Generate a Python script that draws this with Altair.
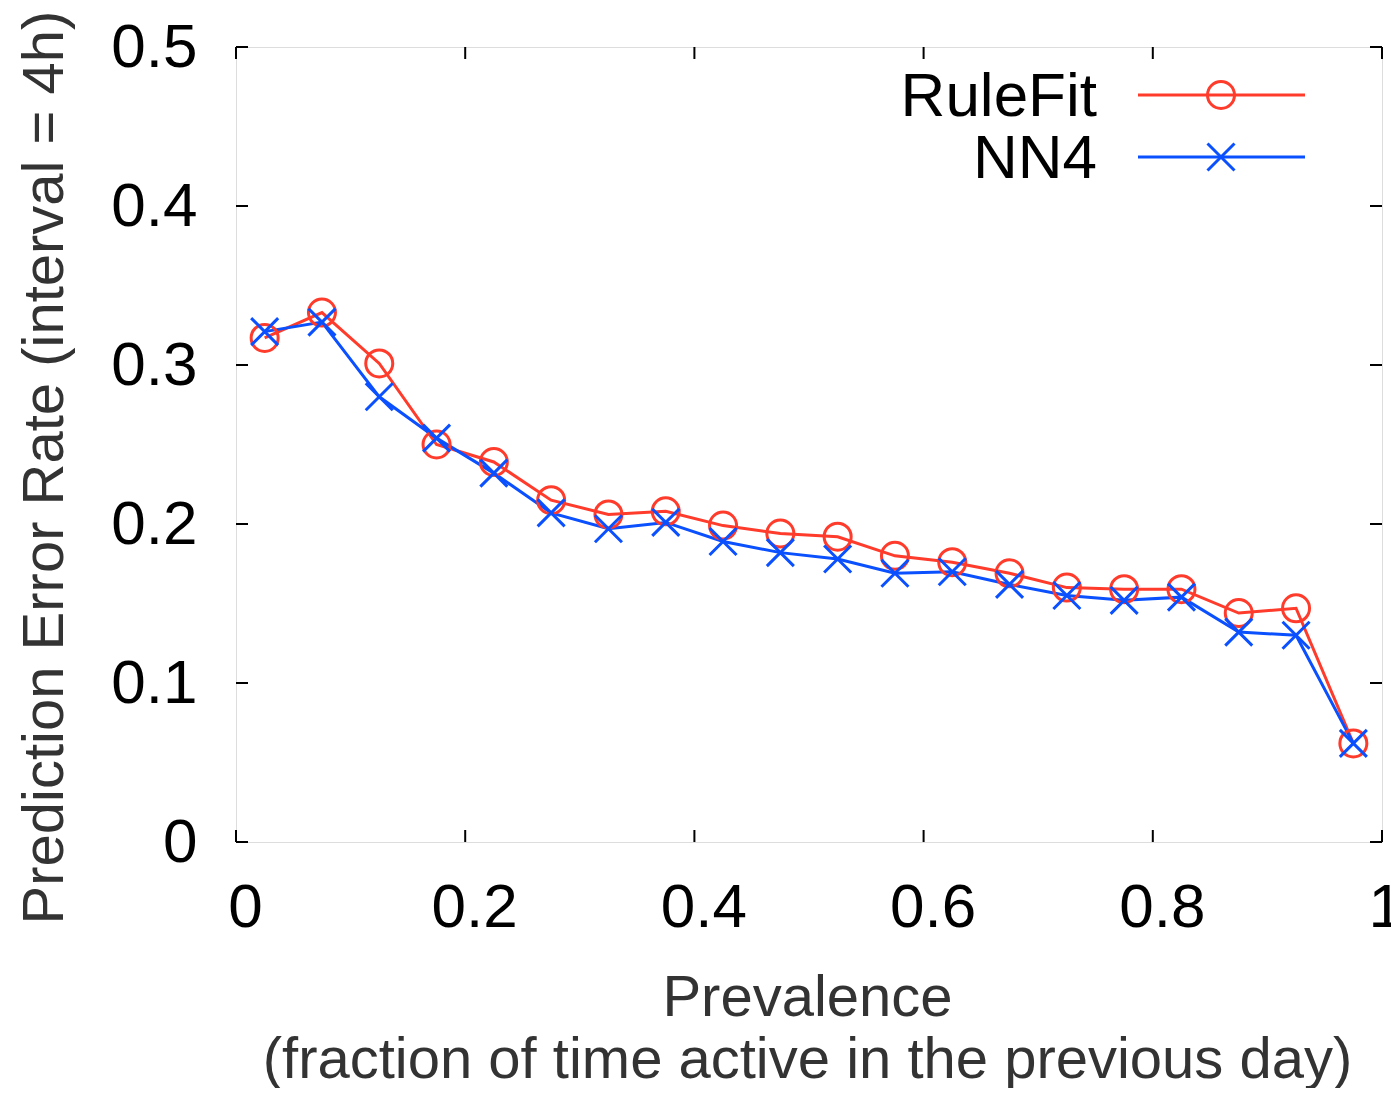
import altair as alt
import pandas as pd

prevalence = [0.025, 0.075, 0.125, 0.175, 0.225, 0.275, 0.325, 0.375, 0.425, 0.475,
              0.525, 0.575, 0.625, 0.675, 0.725, 0.775, 0.825, 0.875, 0.925, 0.975]
rulefit = [0.317, 0.333, 0.301, 0.250, 0.239, 0.215, 0.206, 0.208, 0.199, 0.194,
           0.192, 0.180, 0.176, 0.169, 0.160, 0.159, 0.159, 0.144, 0.147, 0.062]
nn4 = [0.321, 0.327, 0.280, 0.254, 0.232, 0.207, 0.197, 0.201, 0.189, 0.182,
       0.178, 0.169, 0.170, 0.162, 0.155, 0.152, 0.154, 0.132, 0.130, 0.062]
x_ticks = [0, 0.2, 0.4, 0.6, 0.8, 1]
y_ticks = [0, 0.1, 0.2, 0.3, 0.4, 0.5]
series_names = ["RuleFit", "NN4"]
RED = "#ff3b2b"
BLUE = "#0a50ff"

W, H = 1146, 795
FONT = "Liberation Sans"

df = pd.DataFrame({
    "x": prevalence * 2,
    "y": rulefit + nn4,
    "series": [series_names[0]] * len(prevalence) + [series_names[1]] * len(prevalence),
})

xscale = alt.Scale(domain=[0, 1], nice=False, zero=False)
yscale = alt.Scale(domain=[0, 0.5], nice=False, zero=False)

xaxis = alt.Axis(
    values=x_ticks, labelExpr="datum.value == 0 ? '0' : datum.value == 1 ? '1' : format(datum.value, '.1f')",
    tickSize=0, grid=False, domain=False, labelFlush=False,
    labelFontSize=62, labelFont=FONT, labelColor="#000000", labelPadding=35,
    labelOffset={"condition": {"test": "datum.value == 1", "value": -14}, "value": 9},
    labelAlign={"condition": {"test": "datum.value == 1", "value": "left"}, "value": "center"},
    title=["Prevalence", "(fraction of time active in the previous day)"],
    titleFontSize=58, titleFont=FONT, titleColor="#333333", titleFontWeight="normal",
    titleX=W / 2 - 2, titleY=173, titleBaseline="alphabetic", titleLineHeight=62, titleAnchor="middle",
    titleAlign="center",
)
yaxis = alt.Axis(
    values=y_ticks, labelExpr="datum.value == 0 ? '0' : format(datum.value, '.1f')",
    tickSize=0, grid=False, domain=False, labelFlush=False,
    labelFontSize=62, labelFont=FONT, labelColor="#000000", labelPadding=39,
    title="Prediction Error Rate (interval = 4h)",
    titleFontSize=58, titleFont=FONT, titleColor="#333333", titleFontWeight="normal",
    titleX=-174, titleY=420, titleBaseline="alphabetic", titleAngle=-90, titleAlign="center",
)

color = alt.Color("series:N", scale=alt.Scale(domain=series_names, range=[RED, BLUE]), legend=None)

base = alt.Chart(df).encode(
    x=alt.X("x:Q", scale=xscale, axis=xaxis),
    y=alt.Y("y:Q", scale=yscale, axis=yaxis),
    color=color,
)

lines = base.mark_line(strokeWidth=3).encode(detail="series:N")

circles = alt.Chart(df[df.series == "RuleFit"]).mark_point(
    shape="circle", size=729, filled=False, strokeWidth=3, opacity=1, color=RED
).encode(x=alt.X("x:Q", scale=xscale), y=alt.Y("y:Q", scale=yscale))

XPATH = "M-1,-1L1,1M-1,1L1,-1"
crosses = alt.Chart(df[df.series == "NN4"]).mark_point(
    shape=XPATH, size=729, filled=False, strokeWidth=3, opacity=1, color=BLUE
).encode(x=alt.X("x:Q", scale=xscale), y=alt.Y("y:Q", scale=yscale))

# inward ticks on all four sides (mirror ticks)
yt = pd.DataFrame({"t": y_ticks})
xt = pd.DataFrame({"t": x_ticks})
TL = 12
ytick_l = alt.Chart(yt).mark_rule(color="black", strokeWidth=2).encode(
    y=alt.Y("t:Q", scale=yscale), x=alt.value(0), x2=alt.value(TL))
ytick_r = alt.Chart(yt).mark_rule(color="black", strokeWidth=2).encode(
    y=alt.Y("t:Q", scale=yscale), x=alt.value(W - TL), x2=alt.value(W))
xtick_b = alt.Chart(xt).mark_rule(color="black", strokeWidth=2).encode(
    x=alt.X("t:Q", scale=xscale), y=alt.value(H - TL), y2=alt.value(H))
xtick_t = alt.Chart(xt).mark_rule(color="black", strokeWidth=2).encode(
    x=alt.X("t:Q", scale=xscale), y=alt.value(0), y2=alt.value(TL))

# gnuplot-style legend (label left, sample right), top-right inside plot
leg_rows = [(series_names[0], RED, "circle", 48), (series_names[1], BLUE, XPATH, 110)]
legend_layers = []
for name, col, shp, yy in leg_rows:
    ldf = pd.DataFrame({"name": [name]})
    legend_layers.append(alt.Chart(ldf).mark_text(
        align="right", baseline="middle", fontSize=62, font=FONT, color="black", dy=2
    ).encode(text="name:N", x=alt.value(861), y=alt.value(yy)))
    legend_layers.append(alt.Chart(ldf).mark_rule(color=col, strokeWidth=3).encode(
        x=alt.value(902), x2=alt.value(1069), y=alt.value(yy)))
    legend_layers.append(alt.Chart(ldf).mark_point(
        shape=shp, size=729, filled=False, strokeWidth=3, opacity=1, color=col
    ).encode(x=alt.value(985), y=alt.value(yy)))

chart = alt.layer(
    lines, circles, crosses, ytick_l, ytick_r, xtick_b, xtick_t, *legend_layers
).properties(
    width=W, height=H,
    autosize=alt.AutoSizeParams(type="none"),
    padding={"left": 228, "top": 39, "right": 9, "bottom": 246},
).configure_view(
    stroke="black", strokeWidth=2
).configure(background="white")

chart.save("out.html", embed_options={"renderer": "svg", "actions": False})
